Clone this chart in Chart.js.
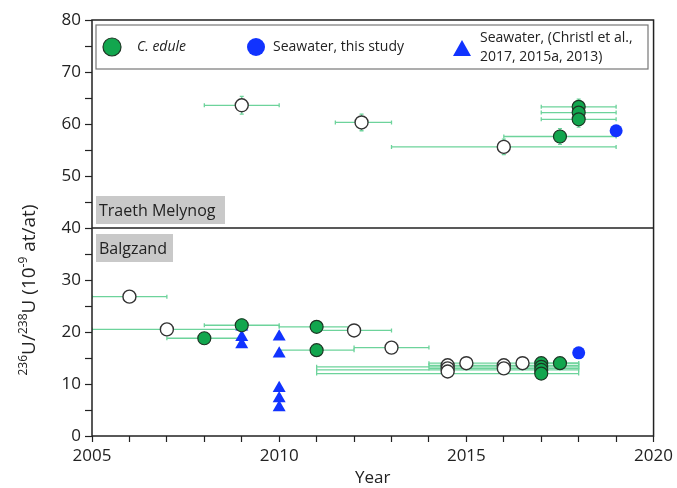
<!DOCTYPE html>
<html>
<head>
<meta charset="utf-8">
<script src="https://cdn.jsdelivr.net/npm/chart.js@4.4.0/dist/chart.umd.min.js"></script>
<style>
  html, body { margin: 0; padding: 0; background: #fff; }
  #wrap { width: 677px; height: 488px; }
</style>
</head>
<body>
<div id="wrap"><canvas id="uranium" width="677" height="488"></canvas></div>
<script>
// Traeth Melynog, C. edule (green)
const tmEduleYear = [2017.5, 2018, 2018, 2018]
const tmEduleRatio = [57.6, 63.3, 62.2, 60.9]
const tmEduleYearLow = [2016, 2017, 2017, 2017]
const tmEduleYearHigh = [2019, 2019, 2019, 2019]
const tmEduleErr = [1.5, 1.5, 1.5, 1.5]

// Traeth Melynog, open circles
const tmOpenYear = [2009, 2012.2, 2016]
const tmOpenRatio = [63.6, 60.3, 55.6]
const tmOpenYearLow = [2008, 2011.5, 2013]
const tmOpenYearHigh = [2010, 2013, 2019]
const tmOpenErr = [1.7, 1.6, 1.5]

// Traeth Melynog, seawater this study
const tmSeaYear = [2019]
const tmSeaRatio = [58.7]

// Balgzand, C. edule (green)
const bzEduleYear = [2008, 2009, 2011, 2011, 2017, 2017, 2017, 2017, 2017.5]
const bzEduleRatio = [18.8, 21.3, 21.0, 16.5, 14.0, 13.3, 12.7, 12.0, 14.0]
const bzEduleYearLow = [2007, 2008, 2010, 2010, 2014, 2011, 2011, 2011, 2017]
const bzEduleYearHigh = [2009, 2010, 2012, 2012, 2018, 2018, 2018, 2018, 2018]
const bzEduleErr = [0.6, 1.2, 0.6, 0.6, 0.5, 0.5, 0.5, 0.5, 0.5]

// Balgzand, open circles
const bzOpenYear = [2006, 2007, 2012, 2013, 2014.5, 2014.5, 2014.5, 2015, 2016, 2016, 2016.5]
const bzOpenRatio = [26.8, 20.5, 20.3, 17.0, 13.6, 13.0, 12.4, 14.0, 13.6, 13.0, 14.0]
const bzOpenYearLow = [2005, 2005, 2011, 2012, null, 2014, null, null, 2014, null, null]
const bzOpenYearHigh = [2007, 2009, 2013, 2014, null, 2018, null, null, 2018, null, null]
const bzOpenErr = [0.5, 0.5, 0.5, 0.5, 0, 0, 0, 0, 0, 0, 0]

// Balgzand, seawater this study and Christl et al.
const bzSeaYear = [2018]
const bzSeaRatio = [16.0]
const christlYear = [2009, 2009, 2009, 2010, 2010, 2010, 2010, 2010]
const christlRatio = [21.0, 19.0, 17.6, 19.1, 15.8, 9.2, 7.2, 5.5]

const green = '#12a64e'
const blue = '#1133ff'
const barColour = '#6dd39b'

function points (years, ratios, low, high, err) {
  return years.map((yr, i) => ({
    x: yr,
    y: ratios[i],
    xMin: low ? low[i] : null,
    xMax: high ? high[i] : null,
    yErr: err ? err[i] : 0
  }))
}

const eduleData = points(tmEduleYear, tmEduleRatio, tmEduleYearLow, tmEduleYearHigh, tmEduleErr)
  .concat(points(bzEduleYear, bzEduleRatio, bzEduleYearLow, bzEduleYearHigh, bzEduleErr))
const openData = points(tmOpenYear, tmOpenRatio, tmOpenYearLow, tmOpenYearHigh, tmOpenErr)
  .concat(points(bzOpenYear, bzOpenRatio, bzOpenYearLow, bzOpenYearHigh, bzOpenErr))
const seaData = points(tmSeaYear, tmSeaRatio).concat(points(bzSeaYear, bzSeaRatio))
const christlData = points(christlYear, christlRatio)

// error bars under the markers
const errorBars = {
  id: 'errorBars',
  beforeDatasetsDraw (chart) {
    const { ctx, chartArea, scales: { x, y } } = chart
    ctx.save()
    ctx.beginPath()
    ctx.rect(chartArea.left, chartArea.top, chartArea.right - chartArea.left, chartArea.bottom - chartArea.top)
    ctx.clip()
    ctx.strokeStyle = barColour
    ctx.lineWidth = 1.3
    chart.data.datasets.forEach(ds => {
      ds.data.forEach(p => {
        const py = y.getPixelForValue(p.y)
        const px = x.getPixelForValue(p.x)
        ctx.beginPath()
        if (p.xMin != null) {
          const x0 = x.getPixelForValue(p.xMin)
          const x1 = x.getPixelForValue(p.xMax)
          ctx.moveTo(x0, py); ctx.lineTo(x1, py)
          ctx.moveTo(x0, py - 2); ctx.lineTo(x0, py + 2)
          ctx.moveTo(x1, py - 2); ctx.lineTo(x1, py + 2)
        }
        if (p.yErr) {
          const y0 = y.getPixelForValue(p.y - p.yErr)
          const y1 = y.getPixelForValue(p.y + p.yErr)
          ctx.moveTo(px, y0); ctx.lineTo(px, y1)
          ctx.moveTo(px - 2, y0); ctx.lineTo(px + 2, y0)
          ctx.moveTo(px - 2, y1); ctx.lineTo(px + 2, y1)
        }
        ctx.stroke()
      })
    })
    ctx.restore()
  }
}

// frame, panel divider, panel labels, legend box and y title
const decorations = {
  id: 'decorations',
  afterDraw (chart) {
    const { ctx, chartArea: a, scales: { y } } = chart
    ctx.save()

    // panel labels
    ctx.fillStyle = '#c9c9c9'
    ctx.fillRect(96, 196, 129, 28)
    ctx.fillRect(96, 234, 77, 28)
    ctx.fillStyle = '#222'
    ctx.font = "16px 'Open Sans'"
    ctx.textBaseline = 'middle'
    ctx.textAlign = 'left'
    ctx.fillText('Traeth Melynog', 99, 211)
    ctx.fillText('Balgzand', 99, 249)

    // divider at 40
    const yMid = y.getPixelForValue(40)
    ctx.strokeStyle = '#222'
    ctx.lineWidth = 1.5
    ctx.beginPath()
    ctx.moveTo(a.left, yMid); ctx.lineTo(a.right, yMid)
    ctx.stroke()
    ctx.strokeRect(a.left, a.top, a.right - a.left, a.bottom - a.top)

    // legend
    ctx.fillStyle = '#fff'
    ctx.fillRect(96, 25, 552, 44)
    ctx.strokeStyle = '#777'
    ctx.lineWidth = 1.2
    ctx.strokeRect(96, 25, 552, 44)

    ctx.lineWidth = 1.2
    ctx.fillStyle = green
    ctx.strokeStyle = '#1d3524'
    ctx.beginPath(); ctx.arc(112, 47, 9, 0, Math.PI * 2); ctx.fill(); ctx.stroke()
    ctx.fillStyle = blue
    ctx.beginPath(); ctx.arc(256, 47, 9, 0, Math.PI * 2); ctx.fill()
    ctx.beginPath()
    ctx.moveTo(462, 40); ctx.lineTo(471, 56); ctx.lineTo(453, 56); ctx.closePath(); ctx.fill()

    ctx.fillStyle = '#222'
    ctx.font = "italic 14px 'Open Sans'"
    ctx.fillText('C. edule', 137, 47)
    ctx.font = "14px 'Open Sans'"
    ctx.fillText('Seawater, this study', 273, 47)
    ctx.fillText('Seawater, (Christl et al.,', 480, 38)
    ctx.fillText('2017, 2015a, 2013)', 480, 57)

    // y title with superscripts
    const parts = [
      ['236', true], ['U/', false], ['238', true], ['U (10', false], ['-9', true], [' at/at)', false]
    ]
    const big = "19px 'Open Sans'"
    const small = "12px 'Open Sans'"
    let total = 0
    parts.forEach(([t, sup]) => { ctx.font = sup ? small : big; total += ctx.measureText(t).width })
    ctx.translate(28, 290)
    ctx.rotate(-Math.PI / 2)
    ctx.textBaseline = 'alphabetic'
    let cx = -total / 2
    parts.forEach(([t, sup]) => {
      ctx.font = sup ? small : big
      ctx.fillText(t, cx, sup ? -1 : 7)
      cx += ctx.measureText(t).width
    })
    ctx.restore()
  }
}

Chart.defaults.font.family = "'Open Sans', sans-serif"
Chart.defaults.color = '#222'

new Chart(document.getElementById('uranium'), {
  type: 'scatter',
  data: {
    datasets: [
      {
        label: 'Seawater, this study',
        data: seaData,
        pointStyle: 'circle',
        pointRadius: 6.5,
        backgroundColor: blue,
        borderColor: blue,
        borderWidth: 0,
        order: 1
      },
      {
        label: 'C. edule',
        data: eduleData,
        pointStyle: 'circle',
        pointRadius: 6.5,
        backgroundColor: green,
        borderColor: '#1d3524',
        borderWidth: 1.2,
        order: 2
      },
      {
        label: 'Seawater, (Christl et al., 2017, 2015a, 2013)',
        data: christlData,
        pointStyle: 'triangle',
        pointRadius: 7.5,
        backgroundColor: blue,
        borderColor: blue,
        borderWidth: 0,
        order: 3
      },
      {
        label: 'open',
        data: openData,
        pointStyle: 'circle',
        pointRadius: 6.5,
        backgroundColor: '#fff',
        borderColor: '#333',
        borderWidth: 1.4,
        order: 4
      }
    ]
  },
  options: {
    responsive: false,
    animation: false,
    layout: { padding: { top: 20, right: 23, left: 0, bottom: 0 } },
    plugins: {
      legend: { display: false },
      tooltip: { enabled: false }
    },
    scales: {
      x: {
        type: 'linear',
        min: 2005,
        max: 2020,
        afterFit: (scale) => { scale.height = 52 },
        border: { display: false },
        grid: { drawOnChartArea: false, tickLength: 6, tickColor: '#222', tickWidth: 1.2 },
        ticks: {
          stepSize: 1,
          autoSkip: false,
          maxRotation: 0,
          padding: 4,
          font: { size: 17 },
          callback: (v) => (v % 5 === 0 ? String(v) : '')
        },
        title: { display: true, text: 'Year', font: { size: 17 }, padding: { top: 0, bottom: 0 } }
      },
      y: {
        min: 0,
        max: 80,
        afterFit: (scale) => { scale.width = 92 },
        border: { display: false },
        grid: { drawOnChartArea: false, tickLength: 7, tickColor: '#222', tickWidth: 1.2 },
        ticks: {
          stepSize: 5,
          autoSkip: false,
          padding: 4,
          font: { size: 17 },
          callback: (v) => (v % 10 === 0 ? String(v) : '')
        }
      }
    }
  },
  plugins: [errorBars, decorations]
})
</script>
</body>
</html>
